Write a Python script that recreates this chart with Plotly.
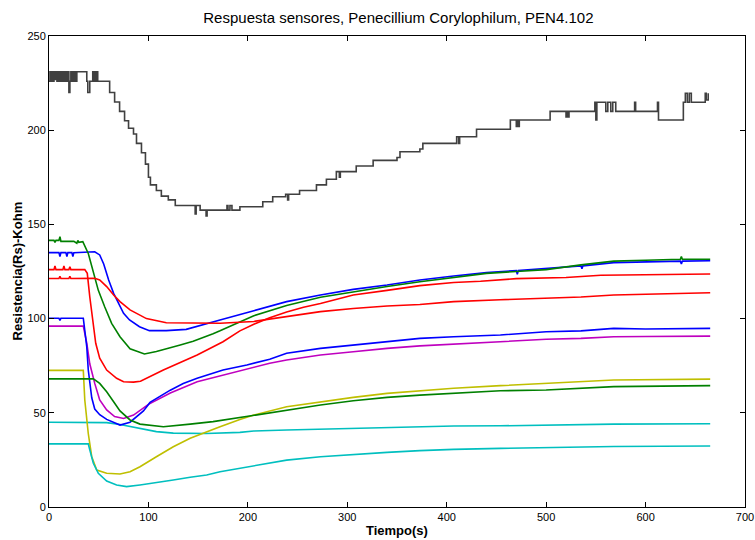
import plotly.graph_objects as go

# Sensor response of the PEN4.102 electronic nose to Penecillium Corylophilum.
# Each sensor: sample times (s) and resistance Rs (kOhm).

t_blue1 = [0, 10, 11, 12, 17, 18, 19, 23, 24, 25, 46, 51, 55, 60, 65, 70, 75, 81, 91, 101, 118, 138,
           155, 172, 206, 239, 273, 306, 340, 373, 407, 440, 470, 471, 472, 500, 535, 536, 537, 568, 600,
           635, 636, 637, 665]
r_blue1 = [135, 135, 133, 135, 135, 133, 135, 135, 133, 135, 135.5, 133.8, 129, 120.5, 113.4, 108, 102.8,
           99.3, 95.7, 93.6, 93.6, 94.3, 96.6, 99.3, 104.2, 109, 112.5, 115.5, 117.8, 120.5, 122.6, 124.4,
           125.5, 123.5, 125.5, 126.7, 128, 126.5, 128, 129.7, 130, 130.5, 129, 130.5, 130.7]

t_green1 = [0, 5, 6, 7, 10, 11, 12, 25, 28, 29, 30, 34, 39.5, 44.6, 49.6, 56, 63, 71.4, 81.5, 96, 108,
            132, 145, 165, 172, 206, 239, 273, 306, 340, 373, 407, 440, 470, 500, 535, 568, 600, 635, 636,
            637, 665]
r_green1 = [141.5, 141.5, 140.5, 141.5, 141.5, 143.5, 141, 141, 140, 141.5, 140.5, 140.8, 134.6, 124, 115,
            106.3, 97.5, 90.4, 84, 81.2, 82.5, 86, 88, 92, 93.5, 101.5, 107, 111.3, 114.3, 117, 119.6,
            121.9, 124, 125, 126, 128.5, 130.5, 131, 131.5, 133, 131.5, 131.5]

t_red1 = [0, 5, 6, 7, 14, 15, 16, 20, 21, 22, 36, 38.5, 41, 44, 47, 51, 58, 68, 75, 85, 92, 115, 149,
          175, 192, 206, 222, 239, 256, 273, 306, 340, 373, 407, 434, 470, 520, 555, 600, 665]
r_red1 = [126, 126, 128, 126, 126, 128, 126, 126, 127.5, 126, 126, 124, 111.6, 97.5, 86.9, 79, 72.7,
          68.3, 66.5, 66.3, 66.7, 72.7, 80.7, 87.7, 93.5, 97, 100.5, 103.5, 106, 108, 112.5, 115,
          117.5, 119.2, 119.8, 121.2, 121.8, 123, 123.3, 123.7]

t_cyan1 = [0, 58, 71.4, 91.5, 108, 125, 158, 192, 206, 239, 273, 306, 340, 373, 407, 454, 500, 568, 665]
r_cyan1 = [45, 44.8, 43.8, 41.8, 40, 39.2, 39, 39.6, 40.3, 40.9, 41.4, 41.8, 42.3, 42.6, 43, 43.1, 43.5,
           44, 44.2]

t_magenta = [0, 34.5, 38, 41, 46, 51, 58, 66, 75, 85, 100, 112, 122, 149, 175, 199, 222, 239, 273, 306,
             340, 373, 407, 454, 500, 535, 568, 600, 665]
r_magenta = [96, 96, 87, 76, 65.6, 56.8, 51.5, 48, 47, 48.8, 54.5, 58, 60.5, 66.5, 70, 73, 76.3, 78,
             80.7, 82.4, 84.2, 85.5, 86.5, 87.7, 89, 89.5, 90.4, 90.5, 90.7]

t_yellow = [0, 34.5, 36, 39.5, 43, 48, 58, 71.4, 81.5, 91.5, 108, 125, 142, 158.6, 172, 192, 206, 239,
            273, 306, 340, 373, 407, 454, 500, 568, 665]
r_yellow = [72.5, 72.5, 56.8, 39, 26.7, 19.6, 17.9, 17.5, 18.7, 21.4, 26.7, 32, 36.5, 40, 42.6, 46.5,
            48.8, 53.2, 55.9, 58.2, 60.3, 61.7, 63, 64.4, 65.6, 67.4, 67.9]

t_gray = [0, 1, 2, 3, 4, 5, 6, 7, 8, 9, 10, 11, 12, 13, 14, 15, 16, 17, 18, 19, 20, 21, 22, 23, 24, 25,
          26, 27, 28, 38, 39, 41, 44, 45, 46, 47, 48, 49, 61, 66, 71, 76, 80, 85, 88, 93, 97, 100, 102,
          108, 113, 120, 127, 147, 148, 152, 158, 159, 179, 180, 182, 184, 192, 215, 225, 238, 240, 241,
          252, 269, 279, 289, 292, 293, 309, 326, 350, 353, 373, 376, 390, 410, 412, 413, 430, 464, 470,
          471, 472, 473, 504, 520, 521, 522, 523, 549, 550, 551, 560, 562, 565, 567, 570, 589, 590, 612,
          613, 638, 640, 642, 644, 646, 658, 660, 661, 663]
r_gray = [226, 231, 226, 231, 226, 231, 227, 231, 226, 231, 226, 231, 226, 231, 226, 231, 226, 231, 226,
          231, 220, 226, 231, 226, 231, 226, 231, 226, 231, 226, 220, 226, 231, 226, 231, 226, 231, 226,
          220, 215, 210, 205, 201, 198, 193, 188, 182, 175, 171, 168, 165, 163, 160, 155.5, 160, 157.6,
          154.5, 157.6, 160, 157.6, 160, 157.6, 159.4, 162, 164.7, 166, 163, 166, 168, 171, 174, 178,
          175, 178, 181, 184, 185.5, 188.6, 190, 193, 193, 196.5, 193, 196.5, 200.5, 205.4, 202, 205.4,
          202, 205.4, 210, 207, 210, 207, 210, 214.8, 205.4, 214.8, 210, 214.8, 210, 214.8, 210, 214.8,
          210, 214.8, 205.4, 214.8, 219.6, 214.8, 219.6, 214.8, 214.8, 219.6, 216, 219.6, 219.6]

t_blue2 = [0, 10, 11, 12, 34.5, 38, 39.5, 43, 46, 51, 58, 63, 71.4, 81.5, 95, 101.6, 112, 122, 135, 149,
           175, 199, 222, 239, 273, 306, 340, 373, 407, 454, 500, 535, 568, 600, 665]
r_blue2 = [100.2, 100.2, 99, 100.2, 100.2, 85, 72.7, 58, 52, 49, 46.5, 45.3, 43.5, 45, 51, 55.5, 59, 62,
           65.5, 68.3, 72.7, 75.4, 78.4, 81.6, 84.2, 86, 87.7, 89.5, 90.4, 91.3, 93, 93.5, 94.8, 94.5,
           94.8]

t_green2 = [0, 44.6, 51, 58, 65, 71.4, 81.5, 91.5, 115, 125, 142, 165, 192, 206, 222, 239, 273, 306, 340,
            373, 407, 454, 500, 568, 665]
r_green2 = [68, 68, 65.6, 61.2, 55.9, 51, 46.2, 44, 42.6, 43, 44, 45.3, 47.5, 48.8, 50.3, 51.5, 54.1,
            56.4, 58.2, 59.4, 60.3, 61.7, 62.1, 63.9, 64.4]

t_red2 = [0, 10, 11, 12, 20, 21, 22, 46, 51, 58, 65, 71.4, 81.5, 98, 118, 145, 172, 206, 239, 273, 306,
          340, 373, 407, 454, 500, 535, 568, 600, 665]
r_red2 = [121.3, 121.3, 122.5, 121.3, 121.3, 122.5, 121.3, 121.4, 120.5, 117, 112.5, 109, 104.6, 100,
          97.8, 97.5, 97.5, 98.5, 101, 103.7, 105.4, 106.7, 107.5, 109, 110, 110.8, 111.5, 112.5, 113,
          113.7]

t_cyan2 = [0, 39.5, 41, 44.6, 49.6, 58, 68, 78, 91.5, 108, 125, 142, 158.6, 172, 192, 206, 239, 273, 306,
           340, 373, 407, 454, 500, 568, 665]
r_cyan2 = [33.5, 33.5, 30.3, 23.2, 17.9, 13.8, 11.7, 10.8, 11.7, 12.9, 14.3, 15.8, 17, 18.7, 20.5, 21.8,
           24.9, 26.7, 28, 29, 29.9, 30.6, 31.1, 31.6, 32.1, 32.4]

x_ticks = [0, 100, 200, 300, 400, 500, 600, 700]
y_ticks = [0, 50, 100, 150, 200, 250]

# Default line colour cycle, in plotting order
series = [
    (t_blue1, r_blue1, "#0000FF", "linear"),
    (t_green1, r_green1, "#008000", "linear"),
    (t_red1, r_red1, "#FF0000", "linear"),
    (t_cyan1, r_cyan1, "#00BFBF", "linear"),
    (t_magenta, r_magenta, "#BF00BF", "linear"),
    (t_yellow, r_yellow, "#BFBF00", "linear"),
    (t_gray, r_gray, "#404040", "hv"),
    (t_blue2, r_blue2, "#0000FF", "linear"),
    (t_green2, r_green2, "#008000", "linear"),
    (t_red2, r_red2, "#FF0000", "linear"),
    (t_cyan2, r_cyan2, "#00BFBF", "linear"),
]

fig = go.Figure()
for t, r, color, shape in series:
    fig.add_trace(go.Scatter(x=t, y=r, mode="lines",
                             line=dict(color=color, width=1.6, shape=shape),
                             hoverinfo="skip"))

font_family = "Liberation Sans, Arial, sans-serif"
axis_common = dict(
    showgrid=False, zeroline=False, showline=True, linecolor="#000000", linewidth=1,
    mirror="ticks", ticks="inside", ticklen=5, tickcolor="#000000", automargin=False,
    tickfont=dict(family=font_family, size=11, color="#000000"),
)

fig.update_layout(
    width=755, height=540,
    margin=dict(l=49, r=10, t=36, b=33, autoexpand=False),
    paper_bgcolor="#FFFFFF", plot_bgcolor="#FFFFFF",
    showlegend=False, hovermode=False,
    title=dict(text="Respuesta sensores, Penecillium Corylophilum, PEN4.102",
               font=dict(family=font_family, size=15, color="#000000"),
               x=0.502, xanchor="center", y=1 - 18 / 540, yanchor="middle",
               xref="paper", yref="container"),
    xaxis=dict(range=[0, 700], tickvals=x_ticks, **axis_common),
    yaxis=dict(range=[0, 250], tickvals=y_ticks, **axis_common),
    annotations=[
        dict(text="<b>Tiempo(s)</b>", xref="paper", yref="paper", x=0.5, y=0,
             xanchor="center", yanchor="middle", yshift=-23, showarrow=False,
             font=dict(family=font_family, size=13, color="#000000")),
        dict(text="<b>Resistencia(Rs)-Kohm</b>", xref="paper", yref="paper", x=0, y=0.5,
             xanchor="center", yanchor="middle", xshift=-32, textangle=-90, showarrow=False,
             font=dict(family=font_family, size=13, color="#000000")),
    ],
)

fig.write_html("out.html")
